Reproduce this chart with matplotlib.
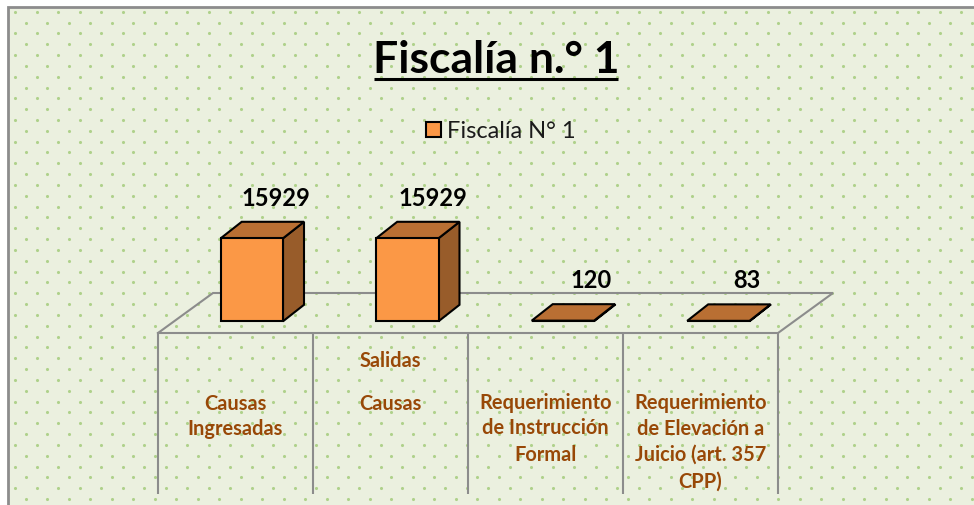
import matplotlib
matplotlib.use("Agg")
import matplotlib.pyplot as plt
import numpy as np
from matplotlib.patches import Polygon, Rectangle

categories = [
    ["Causas", "Ingresadas"],
    ["Salidas", "Causas"],
    ["Requerimiento", "de Instrucción", "Formal"],
    ["Requerimiento", "de Elevación a", "Juicio (art. 357", "CPP)"],
]
values = [15929, 15929, 120, 83]
title = "Fiscalía n.° 1"
series_name = "Fiscalía N° 1"

# layout, in pixels of the 974x506 picture
W, H = 974, 506
FLOOR_LEFT, CELL = 158, 155
FLOOR_FRONT, FLOOR_BACK, FLOOR_DX = 334, 294, 55
AXIS_BOTTOM = 495
BAR_W, BAR_BASE, DX, DY = 62.3, 322.3, 21, 16.5
BAR_STEP = 155.5
PX_PER_UNIT = 83 / 15929

BG = "#ebf0df"
DOT = "#afd18b"
GREY = "#8c8c8c"
FRONT = "#fb9846"
TOP = "#b96f33"
SIDE = "#985c2a"
LABEL = "#984807"
LINE_Y = {0: [404, 429], 1: [361, 404], 2: [403, 428, 455], 3: [403, 429, 455, 482]}
VALUE_DX = [24, 26, 28, 28]

plt.rcParams["font.family"] = ["Lato", "DejaVu Sans"]

fig = plt.figure(figsize=(W / 100, H / 100), dpi=100, facecolor="white")
ax = fig.add_axes([0, 0, 1, 1])
ax.set_xlim(0, W)
ax.set_ylim(H, 0)
ax.axis("off")

# panel with its dot pattern
ax.add_patch(Rectangle((8, 7.5), W, H, fc=BG, ec=GREY, lw=2, zorder=0))
for row, y in enumerate(np.arange(12.7, H, 10.83)):
    xs = np.arange(15 if row % 2 == 0 else 25.7, W, 21.5)
    ax.scatter(xs, [y] * len(xs), s=5, color=DOT, lw=0, zorder=1)

# floor and category dividers
ax.plot([FLOOR_LEFT, FLOOR_LEFT + FLOOR_DX, FLOOR_LEFT + 4 * CELL + FLOOR_DX, FLOOR_LEFT + 4 * CELL, FLOOR_LEFT],
        [FLOOR_FRONT, FLOOR_BACK, FLOOR_BACK, FLOOR_FRONT, FLOOR_FRONT],
        color=GREY, lw=1.5, zorder=2, solid_joinstyle="miter")
for i in range(5):
    x = FLOOR_LEFT + i * CELL
    ax.plot([x, x], [FLOOR_FRONT, AXIS_BOTTOM], color=GREY, lw=1.5, zorder=2, solid_capstyle="butt")

# 3d bars
for i, v in enumerate(values):
    x0 = 220.7 + i * BAR_STEP
    x1 = x0 + BAR_W
    top = BAR_BASE - v * PX_PER_UNIT
    faces = [
        ([(x1, BAR_BASE), (x1 + DX, BAR_BASE - DY), (x1 + DX, top - DY), (x1, top)], SIDE),
        ([(x0, top), (x0 + DX, top - DY), (x1 + DX, top - DY), (x1, top)], TOP),
        ([(x0, BAR_BASE), (x1, BAR_BASE), (x1, top), (x0, top)], FRONT),
    ]
    for pts, col in faces:
        ax.add_patch(Polygon(pts, closed=True, fc=col, ec="black", lw=1.5, zorder=3, joinstyle="miter"))
    ax.text(x0 + BAR_W / 2 + VALUE_DX[i], top - DY - 24.5, str(v), ha="center", va="center",
            fontsize=17, fontweight="bold", color="black", zorder=5)

# category labels
for i, lines in enumerate(categories):
    xc = FLOOR_LEFT + (i + 0.5) * CELL
    for line, y in zip(lines, LINE_Y[i]):
        ax.text(xc, y, line, ha="center", va="center", fontsize=14.4, fontweight="bold", color=LABEL, zorder=5)

# title and legend
ax.text(496, 60, title, ha="center", va="center", fontsize=32, fontweight="bold", color="black", zorder=5)
ax.plot([374, 618], [80, 80], color="black", lw=2.2, zorder=5, solid_capstyle="butt")
ax.add_patch(Rectangle((426, 123), 15, 14.5, fc=FRONT, ec="black", lw=1.5, zorder=5))
ax.text(447, 131.5, series_name, ha="left", va="center", fontsize=17, color="#1a1a1a", zorder=5)

fig.savefig("out.png", dpi=100, facecolor="white")
